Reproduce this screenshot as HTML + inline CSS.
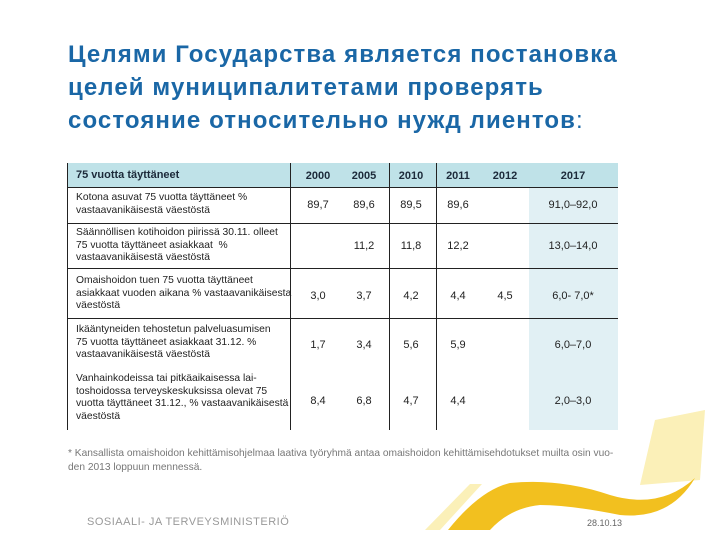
<!DOCTYPE html>
<html><head><meta charset="utf-8"><style>
body{margin:0;width:720px;height:540px;background:#fff;position:relative;overflow:hidden;font-family:"Liberation Sans",sans-serif}
.t{position:absolute;left:68px;top:38px;color:#1a67a6;font-weight:bold;font-size:24px;line-height:33px;letter-spacing:1.1px;white-space:nowrap}
.c{position:absolute;font-size:10.3px;color:#222;line-height:12.5px;white-space:nowrap}
.n{position:absolute;font-size:11px;color:#222;text-align:center;width:60px}
.h{position:absolute;font-size:11px;font-weight:bold;color:#1c2a3a;text-align:center;width:60px;top:170px}
.hl{position:absolute;background:#222}
</style></head><body>
<div class="t">Целями Государства является постановка<br>целей муниципалитетами проверять<br>состояние относительно нужд лиентов<span style="font-weight:normal">:</span></div>

<svg width="720" height="540" style="position:absolute;left:0;top:0">
<path d="M655 420 L705 410 L700 480 L640 485 Z" fill="#fbf0b8"/>
<path d="M425 530 L470 484 L482 484 L440 530 Z" fill="#fbf0b8"/>
<path d="M448 530 Q480 490 510 483 Q560 478 610 495 Q660 510 695 478 Q670 520 620 515 Q570 505 540 505 Q510 508 490 530 Z" fill="#f2c01f"/>
</svg>

<div>
<div style="position:absolute;left:68px;top:163px;width:550px;height:24px;background:#bfe2e8"></div>
<div style="position:absolute;left:529px;top:187px;width:89px;height:243px;background:#e1f0f4"></div>
<div class="hl" style="left:68px;top:187px;width:550px;height:1px"></div>
<div class="hl" style="left:68px;top:223px;width:550px;height:1px"></div>
<div class="hl" style="left:68px;top:268px;width:550px;height:1px"></div>
<div class="hl" style="left:68px;top:318px;width:550px;height:1px"></div>
<div class="hl" style="left:67px;top:163px;width:1px;height:267px"></div>
<div class="hl" style="left:290px;top:163px;width:1px;height:267px"></div>
<div class="hl" style="left:389px;top:163px;width:1px;height:267px"></div>
<div class="hl" style="left:436px;top:163px;width:1px;height:267px"></div>
<div class="c" style="left:76px;top:169px;font-weight:bold;font-size:11px;color:#1c2a3a">75 vuotta täyttäneet</div>
<div class="h" style="left:288px">2000</div><div class="h" style="left:334px">2005</div><div class="h" style="left:381px">2010</div><div class="h" style="left:428px">2011</div><div class="h" style="left:475px">2012</div><div class="h" style="left:543px">2017</div>

<div class="c" style="left:76px;top:192px">Kotona asuvat 75 vuotta täyttäneet %<br>vastaavanikäisestä väestöstä</div>
<div class="n" style="left:288px;top:199px">89,7</div><div class="n" style="left:334px;top:199px">89,6</div><div class="n" style="left:381px;top:199px">89,5</div><div class="n" style="left:428px;top:199px">89,6</div><div class="n" style="left:538px;top:199px;width:70px">91,0–92,0</div>

<div class="c" style="left:76px;top:227px">Säännöllisen kotihoidon piirissä 30.11. olleet<br>75 vuotta täyttäneet asiakkaat &nbsp;%<br>vastaavanikäisestä väestöstä</div>
<div class="n" style="left:334px;top:240px">11,2</div><div class="n" style="left:381px;top:240px">11,8</div><div class="n" style="left:428px;top:240px">12,2</div><div class="n" style="left:538px;top:240px;width:70px">13,0–14,0</div>

<div class="c" style="left:76px;top:275px">Omaishoidon tuen 75 vuotta täyttäneet<br>asiakkaat vuoden aikana % vastaavanikäisesta<br>väestöstä</div>
<div class="n" style="left:288px;top:290px">3,0</div><div class="n" style="left:334px;top:290px">3,7</div><div class="n" style="left:381px;top:290px">4,2</div><div class="n" style="left:428px;top:290px">4,4</div><div class="n" style="left:475px;top:290px">4,5</div><div class="n" style="left:538px;top:290px;width:70px">6,0- 7,0*</div>

<div class="c" style="left:76px;top:324px">Ikääntyneiden tehostetun palveluasumisen<br>75 vuotta täyttäneet asiakkaat 31.12. %<br>vastaavanikäisestä väestöstä</div>
<div class="n" style="left:288px;top:339px">1,7</div><div class="n" style="left:334px;top:339px">3,4</div><div class="n" style="left:381px;top:339px">5,6</div><div class="n" style="left:428px;top:339px">5,9</div><div class="n" style="left:538px;top:339px;width:70px">6,0–7,0</div>

<div class="c" style="left:76px;top:373px">Vanhainkodeissa tai pitkäaikaisessa lai-<br>toshoidossa terveyskeskuksissa olevat 75<br>vuotta täyttäneet 31.12., % vastaavanikäisestä<br>väestöstä</div>
<div class="n" style="left:288px;top:395px">8,4</div><div class="n" style="left:334px;top:395px">6,8</div><div class="n" style="left:381px;top:395px">4,7</div><div class="n" style="left:428px;top:395px">4,4</div><div class="n" style="left:538px;top:395px;width:70px">2,0–3,0</div>
</div>

<div class="c" style="left:68px;top:447px;color:#777;font-size:10.2px;line-height:14px">* Kansallista omaishoidon kehittämisohjelmaa laativa työryhmä antaa omaishoidon kehittämisehdotukset muilta osin vuo-<br>den 2013 loppuun mennessä.</div>
<div style="position:absolute;left:87px;top:516px;font-size:11px;color:#999;letter-spacing:0.5px">SOSIAALI- JA TERVEYSMINISTERIÖ</div>
<div style="position:absolute;left:587px;top:518px;font-size:9px;color:#666">28.10.13</div>
</body></html>
